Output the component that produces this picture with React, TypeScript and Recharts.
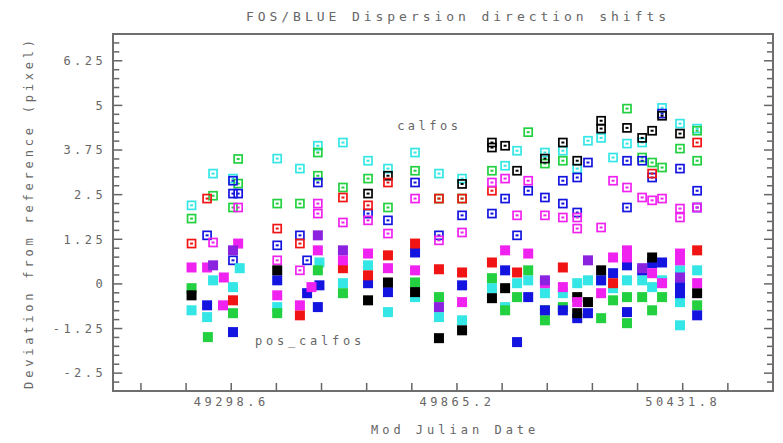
import { ScatterChart, Scatter, XAxis, YAxis, ReferenceDot } from "recharts";

// ─── Axis setup ──────────────────────────────────────────────────────────────

const X_DOMAIN: [number, number] = [49002.6, 50658.44];
const Y_DOMAIN: [number, number] = [-3, 7];

const X_LABELS = [49298.6, 49865.2, 50431.8];
const X_TICKS = [
  49071.96, 49185.28, 49298.6, 49411.92, 49525.24, 49638.56, 49751.88, 49865.2,
  49978.52, 50091.84, 50205.16, 50318.48, 50431.8, 50545.12, 50658.44,
];
const Y_LABELS = [-2.5, -1.25, 0, 1.25, 2.5, 3.75, 5, 6.25];
const Y_TICKS = Array.from({ length: 41 }, (_, i) => -3 + i * 0.25);

// ─── Data: [MJD, deviation in pixels] ────────────────────────────────────────

type Pt = [number, number];

// calfos (open squares)
const calfosCyan: Pt[] = [
  [49199, 2.2], [49253, 3.09], [49303, 2.95], [49414, 3.51], [49471, 3.23],
  [49516, 3.87], [49579, 3.96], [49642, 3.45], [49692, 3.23], [49760, 3.68],
  [49820, 3.09], [49878, 2.95], [49986, 3.31], [50016, 3.73], [50086, 3.68],
  [50131, 3.73], [50167, 3.23], [50194, 4.01], [50227, 4.09], [50257, 3.54],
  [50292, 3.93], [50330, 3.96], [50380, 4.93], [50425, 4.49], [50468, 4.35],
];
const calfosGreen: Pt[] = [
  [49199, 1.83], [49253, 2.47], [49303, 2.14], [49316, 2.81], [49316, 3.5],
  [49414, 2.25], [49471, 2.25], [49516, 3.68], [49516, 3.03], [49579, 2.7],
  [49642, 2.95], [49692, 2.14], [49760, 3.17], [49820, 2.39], [49878, 2.39],
  [49953, 3.17], [50044, 4.25], [50086, 3.37], [50131, 3.45], [50292, 4.91],
  [50330, 3.54], [50355, 3.4], [50380, 3.26], [50425, 3.79], [50468, 4.29],
  [50468, 3.45],
];
const calfosBlue: Pt[] = [
  [49238, 1.36], [49303, 2.89], [49303, 2.53], [49316, 2.53], [49303, 0.66],
  [49414, 1.08], [49471, 1.36], [49489, 0.66], [49516, 2.84], [49642, 1.97],
  [49692, 1.78], [49760, 2.84], [49820, 1.36], [49878, 1.92], [49953, 1.97],
  [49986, 2.39], [50016, 1.36], [50044, 2.61], [50086, 2.42], [50131, 2.89],
  [50131, 2.25], [50167, 2.98], [50167, 2.0], [50194, 3.4], [50292, 3.45],
  [50292, 2.14], [50330, 3.45], [50355, 2.98], [50380, 4.77], [50425, 3.23],
  [50468, 2.61], [50468, 2.14],
];
const calfosBlack: Pt[] = [
  [49642, 2.53], [49692, 3.03], [49878, 2.8], [49953, 3.96], [49953, 3.82],
  [49986, 3.87], [50016, 3.17], [50086, 3.51], [50131, 3.96], [50167, 3.45],
  [50227, 4.35], [50227, 4.57], [50292, 4.37], [50330, 4.09], [50355, 4.29],
  [50380, 4.71], [50425, 4.21],
];
const calfosRed: Pt[] = [
  [49199, 1.13], [49238, 2.39], [49414, 1.55], [49471, 1.13], [49579, 2.42],
  [49642, 2.2], [49692, 2.84], [49820, 2.39], [49878, 2.39], [49953, 2.61],
  [50355, 3.09], [50468, 3.96],
];
const calfosMagenta: Pt[] = [
  [49253, 1.16], [49316, 2.14], [49414, 0.66], [49471, 0.38], [49516, 2.25],
  [49516, 1.97], [49579, 1.72], [49642, 1.78], [49692, 1.41], [49760, 2.39],
  [49820, 1.22], [49878, 1.44], [49953, 2.84], [49986, 2.95], [50016, 1.92],
  [50044, 2.89], [50086, 1.92], [50131, 1.86], [50167, 1.86], [50167, 1.55],
  [50227, 1.58], [50257, 2.89], [50292, 2.7], [50330, 2.42], [50355, 2.34],
  [50380, 2.39], [50425, 2.11], [50425, 1.86], [50468, 2.14],
];

// pos_calfos (filled squares)
const posCyan: Pt[] = [
  [49199, -0.74], [49238, -0.93], [49253, 0.1], [49303, -0.09], [49320, 0.44],
  [49414, -0.65], [49520, 0.6], [49579, 0.02], [49642, 0.52], [49692, -0.79],
  [49760, -0.37], [49820, -0.93], [49878, -1.02], [49953, -0.12], [49986, -0.65],
  [50016, 0.02], [50044, 0.1], [50086, -0.26], [50131, -0.26], [50167, 0.02],
  [50194, 0.1], [50227, 0.1], [50257, -0.12], [50292, 0.1], [50330, 0.1],
  [50355, -0.09], [50380, 0.1], [50425, 0.38], [50425, -0.51], [50425, -1.16],
  [50468, 0.38],
];
const posGreen: Pt[] = [
  [49199, -0.12], [49240, -1.49], [49303, -0.82], [49414, -0.82], [49516, 0.38],
  [49579, -0.26], [49760, 0.04], [49820, -0.37], [49953, 0.16], [49986, -0.74],
  [50016, -0.37], [50044, 0.38], [50086, -0.74], [50086, -1.02], [50131, -0.65],
  [50227, -0.96], [50257, -0.46], [50292, -0.37], [50292, -1.1], [50330, -0.37],
  [50355, -0.74], [50380, -0.37], [50468, -0.6],
];
const posBlue: Pt[] = [
  [49238, -0.6], [49303, -1.35], [49414, 0.1], [49489, -0.26], [49520, -0.04],
  [49516, -0.65], [49642, 0.02], [49692, -0.23], [49760, 0.88], [49878, -0.04],
  [49986, 0.38], [50016, -1.63], [50044, -0.37], [50086, -0.74], [50131, -0.74],
  [50167, -0.96], [50194, -0.82], [50227, 0.1], [50257, 0.3], [50292, 0.52],
  [50292, -0.79], [50330, 0.38], [50355, 0.58], [50380, 0.6], [50425, -0.09],
  [50425, -0.26], [50468, -0.88],
];
const posBlack: Pt[] = [
  [49199, -0.32], [49414, 0.38], [49642, -0.46], [49692, 0.04], [49760, -0.23],
  [49820, -1.52], [49878, -1.3], [49953, -0.4], [49986, -0.12], [50167, -0.37],
  [50167, -0.82], [50194, -0.51], [50227, 0.38], [50355, 0.74], [50468, -0.26],
];
const posRed: Pt[] = [
  [49303, -0.46], [49471, -0.88], [49579, 0.44], [49642, 0.24], [49692, 0.8],
  [49760, 1.13], [49820, 0.41], [49878, 0.32], [49953, 0.6], [50016, 0.32],
  [50131, 0.46], [50257, 0.02], [50468, 0.94],
];
const posMagenta: Pt[] = [
  [49199, 0.46], [49238, 0.46], [49316, 1.13], [49280, 0.18], [49278, -0.6],
  [49414, -0.32], [49471, -0.6], [49516, 0.94], [49500, -0.09], [49579, 0.66],
  [49642, 0.85], [49692, 0.44], [49760, 0.38], [49878, -0.51], [49986, 0.94],
  [50044, 0.85], [50086, 0.02], [50131, -0.09], [50167, -0.51], [50227, -0.26],
  [50257, 0.74], [50292, 0.94], [50292, 0.74], [50355, 0.3], [50380, 0.02],
  [50425, 0.85], [50425, 0.66], [50468, 0.02],
];
const posPurple: Pt[] = [
  [49253, 0.52], [49303, 0.94], [49516, 1.36], [49579, 0.94], [49820, -0.65],
  [50086, 0.1], [50194, 0.66], [50330, 0.44], [50425, 0.18],
];

// ─── Styles ──────────────────────────────────────────────────────────────────

const BLACK = "#000000";
const RED = "#f01414";
const GREEN = "#22d040";
const BLUE = "#1414e0";
const CYAN = "#34e6e6";
const MAGENTA = "#f022f0";
const PURPLE = "#8a22e0";

const AXIS = "#666666";
const TEXT = "#666666";
const FONT = "'DejaVu Sans Mono', monospace";

// plot box inside the chart svg
const PLOT = { left: 105.3, top: 26, right: 765, bottom: 383 };

const SERIES = [
  { data: calfosCyan, color: CYAN, open: true },
  { data: calfosGreen, color: GREEN, open: true },
  { data: calfosBlue, color: BLUE, open: true },
  { data: calfosBlack, color: BLACK, open: true },
  { data: calfosRed, color: RED, open: true },
  { data: calfosMagenta, color: MAGENTA, open: true },
  { data: posCyan, color: CYAN, open: false },
  { data: posGreen, color: GREEN, open: false },
  { data: posBlue, color: BLUE, open: false },
  { data: posBlack, color: BLACK, open: false },
  { data: posRed, color: RED, open: false },
  { data: posMagenta, color: MAGENTA, open: false },
  { data: posPurple, color: PURPLE, open: false },
];

const isLabel = (v: number, list: number[]) =>
  list.some((l) => Math.abs(l - v) < 1e-6);

// ─── Marker shapes ───────────────────────────────────────────────────────────

function FilledSquare(props: any) {
  const { cx, cy, fill } = props;
  if (cx == null || cy == null) return null;
  return <rect x={cx - 5} y={cy - 5} width={10} height={10} fill={fill} />;
}

function OpenSquare(props: any) {
  const { cx, cy, fill } = props;
  if (cx == null || cy == null) return null;
  return (
    <g>
      <rect
        x={cx - 4}
        y={cy - 4}
        width={8}
        height={8}
        fill="none"
        stroke={fill}
        strokeWidth={1.7}
      />
      <rect x={cx - 1.5} y={cy - 1} width={3} height={2} fill={fill} />
    </g>
  );
}

// ─── Tick renderers (inward tick marks + labels) ─────────────────────────────

const labelText = {
  fill: TEXT,
  fontSize: 12,
  fontFamily: FONT,
  style: { letterSpacing: "3.5px" },
};

function BottomTick(props: any) {
  const { x, y, payload } = props;
  const v = payload.value;
  return (
    <g>
      <rect x={x - 0.75} y={y - 8} width={1.5} height={8} fill={AXIS} />
      {isLabel(v, X_LABELS) && (
        <text x={x} y={y + 6} dy="0.71em" textAnchor="middle" {...labelText}>
          {v.toFixed(1)}
        </text>
      )}
    </g>
  );
}

function TopTick(props: any) {
  const { x, y } = props;
  return <rect x={x - 0.75} y={y} width={1.5} height={8} fill={AXIS} />;
}

function LeftTick(props: any) {
  const { x, y, payload } = props;
  const v = payload.value;
  const major = isLabel(v, Y_LABELS);
  return (
    <g>
      <rect x={x} y={y - 0.75} width={major ? 9 : 6} height={1.5} fill={AXIS} />
      {major && (
        <text x={x - 7} y={y} dy="0.355em" textAnchor="end" {...labelText}>
          {String(Math.round(v * 100) / 100)}
        </text>
      )}
    </g>
  );
}

function RightTick(props: any) {
  const { x, y, payload } = props;
  const w = isLabel(payload.value, Y_LABELS) ? 9 : 6;
  return <rect x={x - w} y={y - 0.75} width={w} height={1.5} fill={AXIS} />;
}

// ─── Component ───────────────────────────────────────────────────────────────

export default function App() {
  return (
    <div style={{ position: "relative", width: 775, height: 435 }}>
      <div
        style={{
          position: "absolute",
          left: 120,
          top: 1,
          width: 660,
          textAlign: "center",
          fontFamily: FONT,
          fontSize: 13,
          lineHeight: "16px",
          letterSpacing: "3.95px",
          color: TEXT,
        }}
      >
        FOS/BLUE Dispersion direction shifts
      </div>
      <ScatterChart
        width={775}
        height={435}
        margin={{ top: PLOT.top, right: 775 - PLOT.right, bottom: 0, left: 0 }}
      >
        <XAxis
          xAxisId="b"
          dataKey="x"
          type="number"
          orientation="bottom"
          domain={X_DOMAIN}
          allowDataOverflow
          ticks={X_TICKS}
          interval={0}
          height={435 - PLOT.bottom}
          axisLine={false}
          tickLine={false}
          tickSize={0}
          tickMargin={0}
          tick={(p: any) => <BottomTick {...p} />}
          label={{
            value: "Mod Julian Date",
            position: "insideBottom",
            offset: 9,
            dx: 12,
            fill: TEXT,
            fontSize: 12,
            fontFamily: FONT,
            style: { letterSpacing: "4px" },
          }}
        />
        <XAxis
          xAxisId="t"
          type="number"
          orientation="top"
          mirror
          domain={X_DOMAIN}
          allowDataOverflow
          ticks={X_TICKS}
          interval={0}
          height={10}
          axisLine={false}
          tickLine={false}
          tickSize={0}
          tickMargin={0}
          tick={(p: any) => <TopTick {...p} />}
        />
        <YAxis
          yAxisId="l"
          dataKey="y"
          type="number"
          orientation="left"
          domain={Y_DOMAIN}
          allowDataOverflow
          ticks={Y_TICKS}
          interval={0}
          width={PLOT.left}
          axisLine={false}
          tickLine={false}
          tickSize={0}
          tickMargin={0}
          tick={(p: any) => <LeftTick {...p} />}
          label={{
            value: "Deviation from reference (pixel)",
            angle: -90,
            position: "insideLeft",
            offset: 18,
            dx: 3,
            fill: TEXT,
            fontSize: 12,
            fontFamily: FONT,
            style: { textAnchor: "middle", letterSpacing: "3.8px" },
          }}
        />
        <YAxis
          yAxisId="r"
          type="number"
          orientation="right"
          mirror
          domain={Y_DOMAIN}
          allowDataOverflow
          ticks={Y_TICKS}
          interval={0}
          width={10}
          axisLine={false}
          tickLine={false}
          tickSize={0}
          tickMargin={0}
          tick={(p: any) => <RightTick {...p} />}
        />
        {SERIES.map((s, i) => (
          <Scatter
            key={i}
            xAxisId="b"
            yAxisId="l"
            data={s.data.map(([x, y]) => ({ x, y }))}
            fill={s.color}
            shape={s.open ? OpenSquare : FilledSquare}
            isAnimationActive={false}
          />
        ))}
        <ReferenceDot
          xAxisId="b"
          yAxisId="l"
          x={49715}
          y={4.43}
          r={0}
          fill="none"
          stroke="none"
          label={{
            value: "calfos",
            position: "right",
            offset: 0,
            fill: TEXT,
            fontSize: 12,
            fontFamily: FONT,
            style: { letterSpacing: "3.5px" },
          }}
        />
        <ReferenceDot
          xAxisId="b"
          yAxisId="l"
          x={49358}
          y={-1.58}
          r={0}
          fill="none"
          stroke="none"
          label={{
            value: "pos_calfos",
            position: "right",
            offset: 0,
            fill: TEXT,
            fontSize: 12,
            fontFamily: FONT,
            style: { letterSpacing: "3.8px" },
          }}
        />
      </ScatterChart>
      {/* plot frame */}
      <div
        style={{
          position: "absolute",
          left: PLOT.left - 1,
          top: PLOT.top - 1,
          width: PLOT.right - PLOT.left - 2,
          height: PLOT.bottom - PLOT.top - 2,
          border: "2px solid #6e6e6e",
          pointerEvents: "none",
        }}
      />
    </div>
  );
}
